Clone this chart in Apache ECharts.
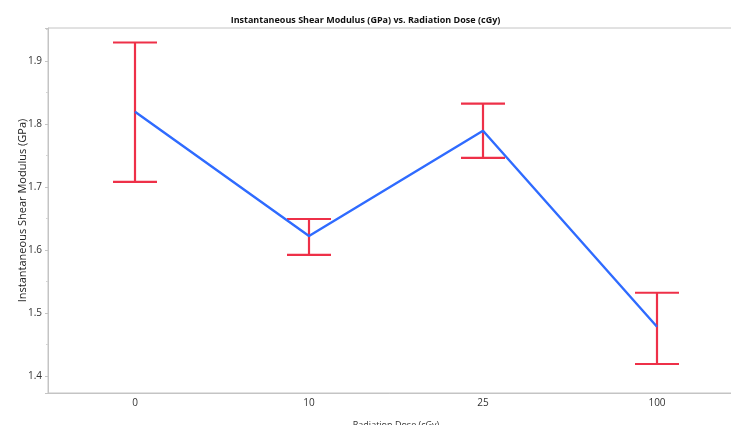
<!DOCTYPE html>
<html lang="en">
<head>
  <meta charset="UTF-8">
  <title>Instantaneous Shear Modulus vs. Radiation Dose</title>
  <script src="https://cdn.jsdelivr.net/npm/echarts@6/dist/echarts.min.js"></script>
  <style>
    html, body { margin: 0; padding: 0; background: #fff; }
    #chart { width: 731px; height: 425px; }
  </style>
</head>
<body>
  <div id="chart"></div>
  <script>
    const doses = ['0', '10', '25', '100'];
    const meanModulus = [1.819, 1.622, 1.789, 1.478];
    const upperBound = [1.929, 1.649, 1.832, 1.532];
    const lowerBound = [1.708, 1.592, 1.746, 1.419];

    const font = '"Open Sans", "Noto Sans", sans-serif';
    const chart = echarts.init(document.getElementById('chart'));

    const errorData = doses.map((d, i) => [i, lowerBound[i], upperBound[i]]);

    chart.setOption({
      animation: false,
      title: {
        text: 'Instantaneous Shear Modulus (GPa) vs. Radiation Dose (cGy)',
        left: 'center',
        top: 11,
        textStyle: { fontFamily: font, fontSize: 9, fontWeight: 'bold', color: '#111' }
      },
      grid: {
        left: 48, right: -13, top: 28, bottom: 32,
        outerBoundsMode: 'none',
        show: true, borderColor: '#c4c4c4', borderWidth: 1
      },
      xAxis: {
        type: 'category',
        data: doses,
        name: 'Radiation Dose (cGy)',
        nameLocation: 'middle',
        nameGap: 28,
        nameMoveOverlap: false,
        nameTextStyle: { fontFamily: font, fontSize: 9, color: '#333' },
        axisLine: { lineStyle: { color: '#c4c4c4' } },
        axisTick: { show: false },
        axisLabel: { fontFamily: font, fontSize: 10, color: '#333', margin: 5 }
      },
      yAxis: {
        type: 'value',
        min: 1.373,
        max: 1.952,
        splitNumber: 6,
        name: 'Instantaneous Shear Modulus (GPa)',
        nameLocation: 'middle',
        nameGap: 20,
        nameMoveOverlap: false,
        nameTextStyle: { fontFamily: font, fontSize: 11, color: '#222' },
        axisLine: { show: true, lineStyle: { color: '#c4c4c4' } },
        axisTick: { show: true, length: 3, lineStyle: { color: '#c4c4c4' } },
        minorTick: { show: true, splitNumber: 2, length: 2, lineStyle: { color: '#d4d4d4' } },
        splitLine: { show: false },
        axisLabel: {
          fontFamily: font, fontSize: 10, color: '#333', margin: 6,
          showMinLabel: false, showMaxLabel: false,
          formatter: v => v.toFixed(1)
        }
      },
      series: [
        {
          type: 'custom',
          data: errorData,
          z: 2,
          renderItem: function (params, api) {
            const x = api.value(0);
            const lo = api.coord([x, api.value(1)]);
            const hi = api.coord([x, api.value(2)]);
            const half = 22;
            const style = { stroke: '#ee3048', lineWidth: 2.2 };
            return {
              type: 'group',
              children: [
                { type: 'line', shape: { x1: hi[0], y1: hi[1], x2: lo[0], y2: lo[1] }, style: style },
                { type: 'line', shape: { x1: hi[0] - half, y1: hi[1], x2: hi[0] + half, y2: hi[1] }, style: style },
                { type: 'line', shape: { x1: lo[0] - half, y1: lo[1], x2: lo[0] + half, y2: lo[1] }, style: style }
              ]
            };
          }
        },
        {
          type: 'line',
          data: meanModulus,
          z: 3,
          symbol: 'none',
          lineStyle: { color: '#2f6bff', width: 2.4 }
        }
      ]
    });
  </script>
</body>
</html>
